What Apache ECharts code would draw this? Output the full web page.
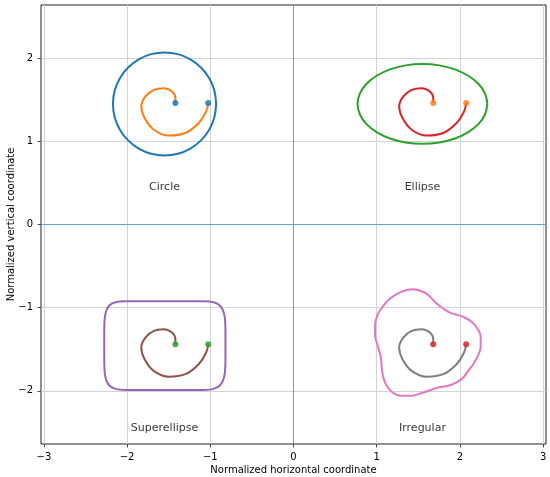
<!DOCTYPE html>
<html>
<head>
<meta charset="utf-8">
<script src="https://cdn.jsdelivr.net/npm/echarts@6/dist/echarts.min.js"></script>
<style>
  html, body { margin: 0; padding: 0; background: #fff; }
  #chart { width: 550px; height: 477px; }
</style>
</head>
<body>
<div id="chart"></div>
<script>
// outline points (data coords)
let circlePts = [
  [-0.93, 1.45], [-0.951, 1.611], [-1.013, 1.76], [-1.112, 1.888], [-1.24, 1.987], [-1.389, 2.049],
  [-1.55, 2.07], [-1.711, 2.049], [-1.86, 1.987], [-1.988, 1.888], [-2.087, 1.76], [-2.149, 1.611],
  [-2.17, 1.45], [-2.149, 1.289], [-2.087, 1.14], [-1.988, 1.012], [-1.86, 0.913], [-1.711, 0.851],
  [-1.55, 0.83], [-1.389, 0.851], [-1.24, 0.913], [-1.112, 1.012], [-1.013, 1.14], [-0.951, 1.289],
  [-0.93, 1.45]
];
let ellipsePts = [
  [2.33, 1.45], [2.303, 1.574], [2.225, 1.69], [2.101, 1.789], [1.94, 1.866], [1.752, 1.914],
  [1.55, 1.93], [1.348, 1.914], [1.16, 1.866], [0.999, 1.789], [0.875, 1.69], [0.797, 1.574],
  [0.77, 1.45], [0.797, 1.326], [0.875, 1.21], [0.999, 1.111], [1.16, 1.034], [1.348, 0.986],
  [1.55, 0.97], [1.752, 0.986], [1.94, 1.034], [2.101, 1.111], [2.225, 1.21], [2.303, 1.326],
  [2.33, 1.45]
];
let superPts = [
  [-0.818, -1.458], [-0.818, -1.33], [-0.82, -1.20], [-0.835, -1.07], [-0.88, -0.98], [-0.96, -0.935],
  [-1.09, -0.924], [-1.32, -0.922], [-1.55, -0.922], [-1.78, -0.922], [-2.01, -0.924], [-2.14, -0.935],
  [-2.22, -0.98], [-2.26, -1.07], [-2.273, -1.20], [-2.275, -1.33], [-2.275, -1.458], [-2.275, -1.58],
  [-2.273, -1.71], [-2.26, -1.84], [-2.22, -1.93], [-2.14, -1.977], [-2.01, -1.99], [-1.78, -1.992],
  [-1.55, -1.992], [-1.32, -1.992], [-1.09, -1.99], [-0.96, -1.977], [-0.88, -1.93], [-0.835, -1.84],
  [-0.82, -1.71], [-0.818, -1.58], [-0.818, -1.458]
];
let irregularPts = [
  [1.45, -0.78], [1.53, -0.80], [1.61, -0.84], [1.71, -0.94], [1.80, -1.01], [1.88, -1.06],
  [1.98, -1.09], [2.06, -1.12], [2.14, -1.17], [2.21, -1.25], [2.25, -1.35], [2.25, -1.47],
  [2.22, -1.57], [2.16, -1.68], [2.10, -1.76], [2.04, -1.84], [1.96, -1.90], [1.86, -1.94],
  [1.74, -1.96], [1.65, -1.99], [1.53, -2.03], [1.41, -2.06], [1.29, -2.06], [1.19, -2.02],
  [1.12, -1.94], [1.08, -1.84], [1.06, -1.72], [1.05, -1.60], [1.01, -1.45], [0.98, -1.33],
  [0.98, -1.21], [1.01, -1.09], [1.07, -0.99], [1.15, -0.90], [1.25, -0.83], [1.35, -0.79],
  [1.45, -0.78]
];
// spiral, relative to each shape's centre
let spiralOffsets = [
  [0.13, 0.01], [0.13, 0.07], [0.09, 0.15], [-0.01, 0.19], [-0.13, 0.17], [-0.23, 0.09],
  [-0.28, -0.03], [-0.24, -0.17], [-0.13, -0.31], [0.05, -0.38], [0.25, -0.35], [0.41, -0.23],
  [0.50, -0.09], [0.525, 0.01]
];
let shapeNames = ['Circle', 'Ellipse', 'Superellipse', 'Irregular'];
let centers = [[-1.55, 1.45], [1.55, 1.45], [-1.55, -1.45], [1.55, -1.45]];
let labelPos = [[-1.55, 0.45], [1.55, 0.45], [-1.55, -2.45], [1.55, -2.45]];
let xTicks = [-3, -2, -1, 0, 1, 2, 3];
let yTicks = [-2, -1, 0, 1, 2];
let xRange = [-3.035, 3.035];
let yRange = [-2.64, 2.64];

let outlines = [circlePts, ellipsePts, superPts, irregularPts];
let outlineColors = ['#1f77b4', '#2ca02c', '#9467bd', '#e377c2'];
let spiralColors = ['#ff7f0e', '#d62728', '#8c564b', '#7f7f7f'];
let dotColors = ['#1f77b4', '#ff7f0e', '#2ca02c', '#d62728'];

const FONT = 'DejaVu Sans';
let dom = document.querySelector('#chart');
let myChart = echarts.init(dom);

function fmt(v) {
  return v < 0 ? '\u2212' + Math.abs(v) : String(v);
}

let series = [];

// zero lines across the whole plot
let zeroStyle = { color: '#62a2d4', width: 1, type: 'solid', opacity: 1 };
series.push({
  type: 'line', silent: true, showSymbol: false, z: 2,
  data: [[0, yRange[0]], [0, yRange[1]]],
  lineStyle: zeroStyle
});
series.push({
  type: 'line', silent: true, showSymbol: false, z: 2,
  data: [[xRange[0], 0], [xRange[1], 0]],
  lineStyle: zeroStyle
});

outlines.forEach(function (pts, i) {
  series.push({
    type: 'line',
    data: pts,
    smooth: 0.4,
    showSymbol: false,
    lineStyle: { color: outlineColors[i], width: 2 },
    z: 3
  });
  let c = centers[i];
  let sp = spiralOffsets.map(function (d) { return [c[0] + d[0], c[1] + d[1]]; });
  series.push({
    type: 'line',
    data: sp,
    smooth: 0.4,
    showSymbol: false,
    lineStyle: { color: spiralColors[i], width: 2 },
    z: 4
  });
  series.push({
    type: 'scatter',
    data: [sp[0], sp[sp.length - 1]],
    symbolSize: 6,
    itemStyle: { color: dotColors[i], opacity: 0.85 },
    z: 5
  });
});

// text labels under each shape
series.push({
  type: 'scatter',
  symbolSize: 1,
  itemStyle: { color: 'transparent' },
  data: shapeNames.map(function (n, i) { return { name: n, value: labelPos[i] }; }),
  label: {
    show: true,
    position: 'inside',
    formatter: '{b}',
    color: '#000',
    fontSize: 11,
    fontFamily: FONT
  },
  z: 6
});

let option = {
  animation: false,
  backgroundColor: '#fff',
  grid: {
    left: 41, right: 4, top: 5, bottom: 33,
    outerBoundsMode: 'none',
    containLabel: false,
    show: true, borderColor: '#222', borderWidth: 1
  },
  xAxis: {
    type: 'value',
    min: xRange[0], max: xRange[1],
    name: 'Normalized horizontal coordinate',
    nameLocation: 'middle',
    nameGap: 21,
    nameMoveOverlap: false,
    nameTextStyle: { fontFamily: FONT, fontSize: 10, color: '#000' },
    axisLine: { show: false, onZero: false },
    axisTick: { customValues: xTicks, length: 3.5, lineStyle: { color: '#222', width: 0.8 } },
    axisLabel: { customValues: xTicks, formatter: fmt, margin: 8, fontFamily: FONT, fontSize: 10, color: '#000' },
    splitLine: { show: true, lineStyle: { color: '#d3d3d3', width: 1 } }
  },
  yAxis: {
    type: 'value',
    min: yRange[0], max: yRange[1],
    name: 'Normalized vertical coordinate',
    nameLocation: 'middle',
    nameGap: 25,
    nameMoveOverlap: false,
    nameTextStyle: { fontFamily: FONT, fontSize: 10, color: '#000' },
    axisLine: { show: false, onZero: false },
    axisTick: { customValues: yTicks, length: 3.5, lineStyle: { color: '#222', width: 0.8 } },
    axisLabel: { customValues: yTicks, formatter: fmt, margin: 8, fontFamily: FONT, fontSize: 10, color: '#000' },
    splitLine: { show: true, lineStyle: { color: '#d3d3d3', width: 1 } }
  },
  series: series
};

myChart.setOption(option);
</script>
</body>
</html>
